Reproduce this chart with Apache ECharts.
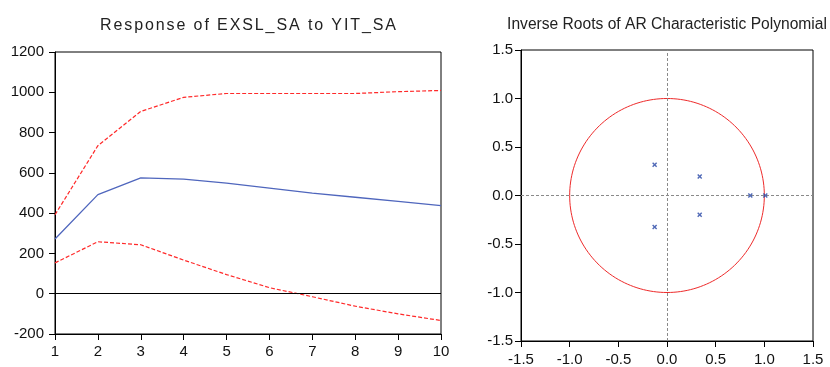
<!DOCTYPE html>
<html>
<head>
<meta charset="utf-8">
<script src="https://cdn.jsdelivr.net/npm/echarts@6/dist/echarts.min.js"></script>
<style>
  html, body { margin: 0; padding: 0; background: #fff; }
  #chart { width: 830px; height: 367px; }
</style>
</head>
<body>
<div id="chart"></div>
<script>
// Impulse response of EXSL_SA to a YIT_SA shock, with +/- 2 S.E. bands
const periods = ['1', '2', '3', '4', '5', '6', '7', '8', '9', '10'];
const response = [272, 492, 575, 569, 549, 524, 499, 479, 458, 437];
const upperBand = [392, 735, 905, 975, 994, 994, 994, 994, 1003, 1009];
const lowerBand = [153, 258, 243, 167, 95, 30, -15, -62, -100, -133];
const responseTicks = { min: -200, max: 1200, step: 200 };

// Inverse roots of the AR characteristic polynomial (real, imaginary)
const rootsReal = [-0.127, -0.127, 0.336, 0.336, 0.856, 1.01];
const rootsImag = [0.318, -0.325, 0.195, -0.199, 0, 0];
const rootTicks = { min: -1.5, max: 1.5, step: 0.5 };

const leftTitle = 'Response of EXSL_SA to YIT_SA';
const rightTitle = 'Inverse Roots of AR Characteristic Polynomial';

// unit circle: the stability boundary
const unitCircle = [];
for (let a = 0; a <= 360; a += 2) {
  const r = a * Math.PI / 180;
  unitCircle.push([Math.cos(r), Math.sin(r)]);
}

const FONT = '"Liberation Sans", Arial, sans-serif';
const RED = '#ff2a2a';
const BLUE = '#4f66bd';

// spread the left title's letters a little
const spaced = leftTitle.split('').map(ch => '{c|' + ch + '}').join('');

const chart = echarts.init(document.getElementById('chart'), null, { renderer: 'canvas' });

const tick = { show: true, inside: false, length: 6, lineStyle: { color: '#000' } };
const line = { show: true, onZero: false, lineStyle: { color: '#000', width: 1 } };
const label = { color: '#111', fontFamily: FONT, fontSize: 15 };

chart.setOption({
  animation: false,
  backgroundColor: '#fff',
  title: [
    {
      text: spaced,
      left: 243, top: 13,
      textAlign: 'center',
      textStyle: {
        fontFamily: FONT, fontSize: 16, fontWeight: 'normal', color: '#222',
        rich: { c: { fontFamily: FONT, fontSize: 16, color: '#222', padding: [0, 0.95, 0, 0.95] } }
      }
    },
    {
      text: rightTitle,
      left: 662, top: 12,
      textAlign: 'center',
      textStyle: { fontFamily: FONT, fontSize: 15.6, fontWeight: 'normal', color: '#222' }
    }
  ],
  grid: [
    { left: 55, top: 52, width: 386, height: 282, show: true, borderColor: '#000', borderWidth: 1, backgroundColor: 'transparent' },
    { left: 521, top: 50, width: 292, height: 292, show: true, borderColor: '#000', borderWidth: 1, backgroundColor: 'transparent' }
  ],
  xAxis: [
    {
      gridIndex: 0, type: 'category', data: periods, boundaryGap: false,
      axisLine: line, splitLine: { show: false },
      axisTick: Object.assign({}, tick, { alignWithLabel: true }),
      axisLabel: Object.assign({}, label, { margin: 10, interval: 0 })
    },
    {
      gridIndex: 1, type: 'value',
      min: rootTicks.min, max: rootTicks.max, interval: rootTicks.step,
      axisLine: line, axisTick: tick, splitLine: { show: false },
      axisLabel: Object.assign({}, label, { margin: 11, formatter: v => v.toFixed(1) })
    }
  ],
  yAxis: [
    {
      gridIndex: 0, type: 'value',
      min: responseTicks.min, max: responseTicks.max, interval: responseTicks.step,
      axisLine: line, axisTick: tick, splitLine: { show: false },
      axisLabel: Object.assign({}, label, { margin: 11, formatter: v => String(v) })
    },
    {
      gridIndex: 1, type: 'value',
      min: rootTicks.min, max: rootTicks.max, interval: rootTicks.step,
      axisLine: line, axisTick: tick, splitLine: { show: false },
      axisLabel: Object.assign({}, label, { margin: 8, formatter: v => v.toFixed(1) })
    }
  ],
  series: [
    {
      name: 'upper', type: 'line', xAxisIndex: 0, yAxisIndex: 0,
      data: upperBand, showSymbol: false, silent: true,
      lineStyle: { color: RED, width: 1.2, type: [4, 2] }
    },
    {
      name: 'response', type: 'line', xAxisIndex: 0, yAxisIndex: 0,
      data: response, showSymbol: false, silent: true,
      lineStyle: { color: BLUE, width: 1.3 },
      markLine: {
        silent: true, symbol: 'none', label: { show: false },
        lineStyle: { color: '#000', width: 1, type: 'solid' },
        data: [{ yAxis: 0 }]
      }
    },
    {
      name: 'lower', type: 'line', xAxisIndex: 0, yAxisIndex: 0,
      data: lowerBand, showSymbol: false, silent: true,
      lineStyle: { color: RED, width: 1.2, type: [4, 2] }
    },
    {
      name: 'circle', type: 'line', xAxisIndex: 1, yAxisIndex: 1,
      data: unitCircle, showSymbol: false, silent: true, smooth: false,
      lineStyle: { color: '#ee2a2a', width: 1 },
      markLine: {
        silent: true, symbol: 'none', label: { show: false },
        lineStyle: { color: '#8a8a8a', width: 1, type: [3, 2] },
        data: [{ xAxis: 0 }, { yAxis: 0 }]
      }
    },
    {
      name: 'roots', type: 'scatter', xAxisIndex: 1, yAxisIndex: 1,
      data: rootsReal.map((re, i) => [re, rootsImag[i]]),
      symbol: 'path://M0,2L2,0L5,3L8,0L10,2L7,5L10,8L8,10L5,7L2,10L0,8L3,5Z',
      symbolSize: 5, silent: true, z: 5,
      itemStyle: { color: '#2545a5' }
    }
  ]
});
</script>
</body>
</html>
